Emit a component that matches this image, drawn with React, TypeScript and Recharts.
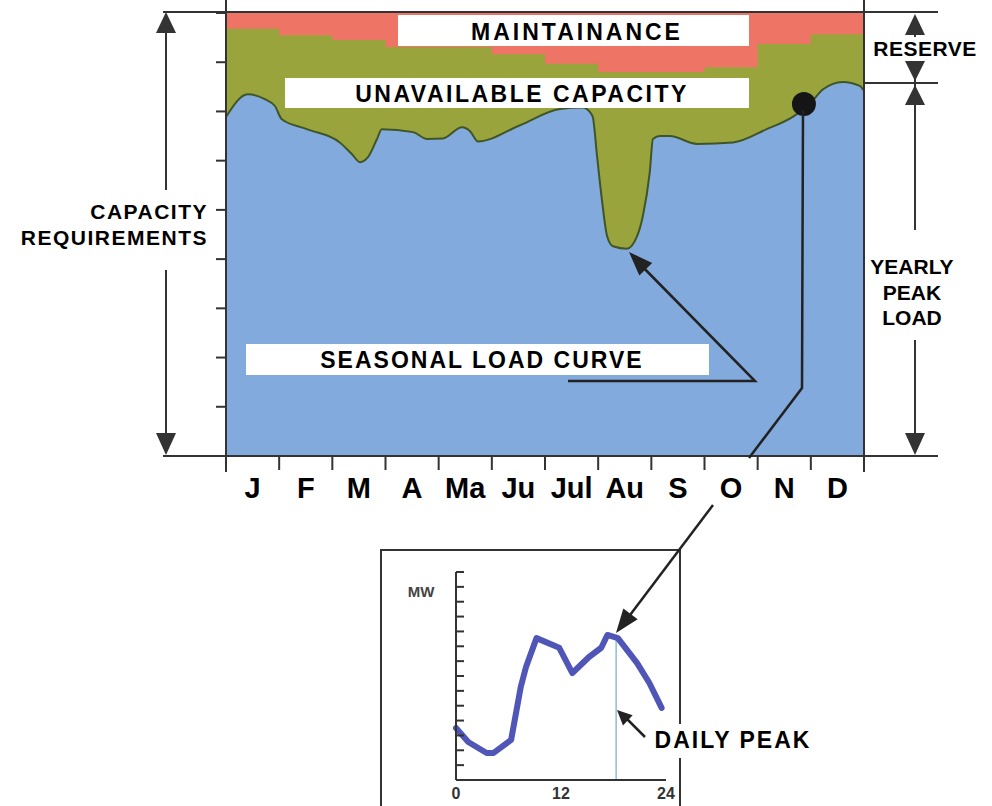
import React from "react";
import {
  ComposedChart,
  Area,
  XAxis,
  YAxis,
  ReferenceDot,
  LineChart,
  Line,
  ReferenceLine,
} from "recharts";

// ---- seasonal chart data (x = month position 0..12, y = capacity units 0..9)
const MONTHS = ["J", "F", "M", "A", "Ma", "Ju", "Jul", "Au", "S", "O", "N", "D"];
const MONTH_TICKS = [0, 1, 2, 3, 4, 5, 6, 7, 8, 9, 10, 11, 12];
const CAPACITY_TICKS = [0, 1, 2, 3, 4, 5, 6, 7, 8, 9];

const LOAD_MONTH = [
  0, 0.41, 0.73, 0.92, 1.05, 1.52, 2.14, 2.37, 2.52, 2.67, 2.84, 2.93, 3.52, 3.78, 4.08, 4.44,
  4.59, 4.74, 5.53, 6.28, 6.71, 6.85, 6.9, 6.98, 7.07, 7.17, 7.28, 7.54, 7.73, 7.84, 7.97, 8.03,
  8.16, 8.35, 8.86, 9.54, 10.17, 10.66, 10.98, 11.23, 11.6, 11.92, 12,
];
const LOAD_VALUE = [
  6.89, 7.35, 7.25, 7.11, 6.84, 6.64, 6.37, 6.13, 5.97, 6.07, 6.44, 6.64, 6.58, 6.44, 6.45, 6.68,
  6.6, 6.39, 6.72, 7.05, 7.08, 6.98, 6.88, 6.08, 5.21, 4.46, 4.26, 4.21, 4.46, 4.87, 5.76, 6.44,
  6.5, 6.5, 6.34, 6.37, 6.64, 6.89, 7.15, 7.45, 7.6, 7.52, 7.42,
];

// top of unavailable capacity, holds until the next month listed
const UNAVAIL_MONTH = [0, 1, 2, 3, 5, 6, 7, 9, 10, 11, 12];
const UNAVAIL_VALUE = [8.68, 8.55, 8.45, 8.31, 8.16, 7.97, 7.8, 7.9, 8.37, 8.57, 8.57];

// installed capacity (top of maintenance band)
const INSTALLED_MONTH = [0, 12];
const INSTALLED_VALUE = [9, 9];

const YEARLY_PEAK_MONTH = 10.87;
const YEARLY_PEAK_VALUE = 7.15;

// ---- daily load curve
const HOURS = [0, 1.4, 3.5, 4.3, 6.3, 7.4, 8.0, 9.2, 11.8, 13.3, 15.2, 16.6, 17.3, 18.5, 20.7, 22.1, 23.5];
const DAILY_MW = [3.5, 2.56, 1.82, 1.82, 2.7, 6.26, 7.6, 9.55, 8.9, 7.2, 8.28, 8.9, 9.76, 9.55, 7.87, 6.53, 4.85];
const HOUR_TICKS = [0, 12, 24];
const MW_TICKS = [1, 2, 3, 4, 5, 6, 7, 8, 9, 10, 11, 12, 13, 14];
const DAILY_PEAK_HOUR = 18.3;
const DAILY_PEAK_MW = 9.55;

const loadData = LOAD_MONTH.map((m, i) => ({ m, v: LOAD_VALUE[i] }));
const unavailData = UNAVAIL_MONTH.map((m, i) => ({ m, v: UNAVAIL_VALUE[i] }));
const installedData = INSTALLED_MONTH.map((m, i) => ({ m, v: INSTALLED_VALUE[i] }));
const dailyData = HOURS.map((h, i) => ({ h, mw: DAILY_MW[i] }));

const INK = "#333";
const FONT = "'Liberation Sans', Arial, Helvetica, sans-serif";
const BLUE = "#82aadc";
const GREEN = "#9aa43c";
const RED = "#ee7565";

const CHART_W = 992;
const CHART_H = 520;
const MARGIN = { top: 13, right: 128, bottom: 0, left: 216 };
const PLOT_W = CHART_W - MARGIN.left - MARGIN.right - 10;

const NoLabel = () => <g />;

const MonthTick = (props: any) => {
  const { x, y, payload } = props;
  const i = payload.value;
  if (i >= MONTHS.length) return <g />;
  return (
    <text
      x={x + PLOT_W / 24}
      y={y + 28}
      textAnchor="middle"
      fontFamily={FONT}
      fontWeight="bold"
      fontSize={29}
      fill="#000"
    >
      {MONTHS[i]}
    </text>
  );
};

function head(x1: number, y1: number, x2: number, y2: number, len = 20, half = 8) {
  const dx = x2 - x1;
  const dy = y2 - y1;
  const d = Math.hypot(dx, dy);
  const ux = dx / d;
  const uy = dy / d;
  const bx = x2 - ux * len;
  const by = y2 - uy * len;
  return `${x2},${y2} ${bx - uy * half},${by + ux * half} ${bx + uy * half},${by - ux * half}`;
}

const Label = ({ x, y, w, h, text, tx, ty, size = 23, spacing = 2, anchor = "middle" }: any) => (
  <g>
    <rect x={x} y={y} width={w} height={h} fill="#fff" />
    <text
      x={tx}
      y={ty}
      textAnchor={anchor}
      fontFamily={FONT}
      fontWeight="bold"
      fontSize={size}
      letterSpacing={spacing}
      fill="#000"
    >
      {text}
    </text>
  </g>
);

function Overlay() {
  return (
    <svg
      width={992}
      height={806}
      style={{ position: "absolute", left: 0, top: 0, pointerEvents: "none" }}
    >
      <g stroke={INK} strokeWidth={2} fill="none">
        {/* frame */}
        <line x1={163} y1={12} x2={938} y2={12} />
        <line x1={163} y1={456} x2={938} y2={456} />
        <line x1={226} y1={0} x2={226} y2={472} />
        <line x1={864} y1={0} x2={864} y2={472} />
        <line x1={864} y1={83} x2={938} y2={83} />
        {/* capacity requirement arrow */}
        <line x1={166} y1={20} x2={166} y2={448} />
        {/* reserve / peak arrows */}
        <line x1={915} y1={20} x2={915} y2={448} />
        {/* inset frame */}
        <line x1={381} y1={550} x2={381} y2={806} />
        <line x1={680} y1={550} x2={680} y2={806} />
        <line x1={380} y1={550} x2={681} y2={550} />
      </g>
      <g fill={INK}>
        <polygon points="166,12 156,33 176,33" />
        <polygon points="166,455 156,433 176,433" />
        <polygon points="915,14 905,35 925,35" />
        <polygon points="915,81 905,61 925,61" />
        <polygon points="915,85 905,105 925,105" />
        <polygon points="915,455 905,433 925,433" />
      </g>

      <Label x={10} y={190} w={205} h={80} text="CAPACITY" tx={208} ty={219} size={21} spacing={1.5} anchor="end" />
      <text x={208} y={245} textAnchor="end" fontFamily={FONT} fontWeight="bold" fontSize={21} letterSpacing={1.5} fill="#000">
        REQUIREMENTS
      </text>
      <Label x={866} y={37} w={120} h={24} text="RESERVE" tx={925} ty={56} size={21} spacing={0.5} />
      <rect x={865} y={230} width={103} height={110} fill="#fff" />
      {["YEARLY", "PEAK", "LOAD"].map((t, i) => (
        <text key={t} x={912} y={274 + i * 25.5} textAnchor="middle" fontFamily={FONT} fontWeight="bold" fontSize={21} fill="#000">
          {t}
        </text>
      ))}

      <Label x={398} y={15} w={351} h={31} text="MAINTAINANCE" tx={577} ty={40} spacing={3} />
      <Label x={285} y={78} w={464} h={30} text="UNAVAILABLE CAPACITY" tx={522} ty={102} spacing={2.5} />
      <Label x={246} y={344} w={463} h={31} text="SEASONAL LOAD CURVE" tx={482} ty={368} spacing={2} />

      {/* arrow to August dip */}
      <polyline points="568,381 755,381 633,257" stroke="#222" strokeWidth={2.5} fill="none" />
      <polygon points={head(755, 381, 629, 252, 24, 9)} fill="#222" />

      {/* yearly peak to daily curve */}
      <polyline points="803,110 802,388 749,458" stroke="#222" strokeWidth={2.5} fill="none" />
      <line x1={713} y1={505} x2={621} y2={627} stroke="#222" strokeWidth={2.5} />
      <polygon points={head(713, 505, 616, 633, 24, 9)} fill="#222" />

      {/* daily peak arrow */}
      <line x1={645} y1={737} x2={622} y2={714} stroke="#222" strokeWidth={2.5} />
      <polygon points={head(645, 737, 617, 710, 15, 7)} fill="#222" />
      <Label x={648} y={724} w={170} h={34} text="DAILY PEAK" tx={733} ty={748} spacing={2} />

      <text x={421} y={597} textAnchor="middle" fontFamily={FONT} fontWeight="bold" fontSize={15} fill="#444">
        MW
      </text>
    </svg>
  );
}

export default function App() {
  return (
    <div style={{ position: "absolute", left: 0, top: 0, width: 992, height: 806, background: "#fff", overflow: "hidden" }}>
      <div style={{ position: "absolute", left: 0, top: 0 }}>
        <ComposedChart width={CHART_W} height={CHART_H} margin={MARGIN}>
          <XAxis
            dataKey="m"
            type="number"
            domain={[0, 12]}
            ticks={MONTH_TICKS}
            interval={0}
            height={64}
            tickSize={14}
            tickMargin={0}
            axisLine={false}
            tickLine={{ stroke: INK, strokeWidth: 2 }}
            tick={<MonthTick />}
          />
          <YAxis
            type="number"
            domain={[0, 9]}
            ticks={CAPACITY_TICKS}
            interval={0}
            width={10}
            tickSize={10}
            tick={<NoLabel />}
            axisLine={{ stroke: INK, strokeWidth: 2 }}
            tickLine={{ stroke: INK, strokeWidth: 2 }}
          />
          <Area
            data={installedData}
            dataKey="v"
            type="linear"
            fill={RED}
            fillOpacity={1}
            stroke="none"
            isAnimationActive={false}
          />
          <Area
            data={unavailData}
            dataKey="v"
            type="stepAfter"
            fill={GREEN}
            fillOpacity={1}
            stroke="none"
            isAnimationActive={false}
          />
          <Area
            data={loadData}
            dataKey="v"
            type="monotone"
            fill={BLUE}
            fillOpacity={1}
            stroke="#3f5528"
            strokeWidth={2}
            isAnimationActive={false}
          />
          <ReferenceDot x={YEARLY_PEAK_MONTH} y={YEARLY_PEAK_VALUE} r={12} fill="#151515" stroke="none" />
        </ComposedChart>
      </div>

      <div style={{ position: "absolute", left: 381, top: 550 }}>
        <LineChart width={299} height={256} data={dailyData} margin={{ top: 22, right: 14, bottom: 0, left: 75 }}>
          <XAxis
            dataKey="h"
            type="number"
            domain={[0, 24]}
            ticks={HOUR_TICKS}
            height={26}
            tickLine={false}
            tickMargin={2}
            axisLine={{ stroke: INK, strokeWidth: 2 }}
            tick={{ fill: INK, fontFamily: FONT, fontWeight: "bold", fontSize: 16 }}
          />
          <YAxis
            type="number"
            domain={[0, 14]}
            ticks={MW_TICKS}
            interval={0}
            width={2}
            mirror
            tickSize={8}
            tick={<NoLabel />}
            axisLine={{ stroke: INK, strokeWidth: 2 }}
            tickLine={{ stroke: INK, strokeWidth: 2 }}
          />
          <ReferenceLine
            segment={[
              { x: DAILY_PEAK_HOUR, y: 0 },
              { x: DAILY_PEAK_HOUR, y: DAILY_PEAK_MW },
            ]}
            stroke="#7fb0d8"
            strokeWidth={1.3}
          />
          <Line
            dataKey="mw"
            type="linear"
            stroke="#5055b8"
            strokeWidth={6}
            strokeLinejoin="round"
            strokeLinecap="round"
            dot={false}
            isAnimationActive={false}
          />
        </LineChart>
      </div>

      <Overlay />
    </div>
  );
}
